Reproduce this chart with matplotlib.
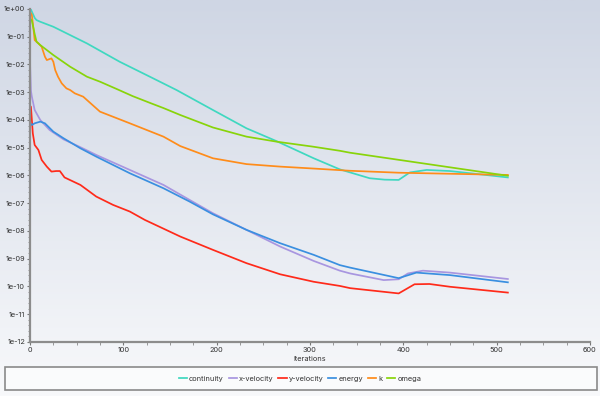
import numpy as np
import matplotlib
matplotlib.use('Agg')
import matplotlib.pyplot as plt
from matplotlib.colors import LinearSegmentedColormap
from matplotlib.patches import Rectangle
from matplotlib.ticker import LogLocator, MultipleLocator, FuncFormatter

plt.rcParams['font.family'] = ['Inter', 'DejaVu Sans']

# residuals (iteration, log10 of residual)
cont_it = [0, 1, 5, 7, 11, 25, 43, 61, 96, 129, 157, 196, 232, 264, 304, 332, 343, 364, 380, 395, 407, 425, 450, 480, 512]
cont_lg = [0.0, -0.02, -0.32, -0.40, -0.46, -0.64, -0.94, -1.24, -1.90, -2.45, -2.92, -3.64, -4.30, -4.76, -5.38, -5.78,
           -5.89, -6.10, -6.15, -6.16, -5.89, -5.80, -5.84, -5.95, -6.07]

xvel_it = [0, 1, 2, 5, 11, 21, 36, 54, 71, 107, 143, 171, 196, 232, 268, 304, 332, 343, 379, 395, 405, 421, 450, 512]
xvel_lg = [-1.9, -2.95, -3.16, -3.64, -4.0, -4.36, -4.70, -4.98, -5.26, -5.80, -6.34, -6.88, -7.36, -7.96, -8.56, -9.08,
           -9.43, -9.53, -9.77, -9.74, -9.53, -9.43, -9.50, -9.73]

yvel_it = [0, 1, 3, 5, 9, 12.5, 18, 23, 28, 32, 37, 54, 71, 89, 107, 123, 161, 196, 232, 268, 304, 332, 343, 395, 412,
           428, 450, 512]
yvel_lg = [-3.5, -3.52, -4.48, -4.90, -5.08, -5.44, -5.68, -5.86, -5.84, -5.84, -6.07, -6.34, -6.76, -7.06, -7.30, -7.60,
           -8.20, -8.68, -9.16, -9.56, -9.83, -9.98, -10.06, -10.25, -9.92, -9.91, -10.01, -10.22]

ener_it = [0, 2, 5, 11, 16, 25, 36, 54, 71, 107, 143, 171, 196, 232, 268, 304, 332, 343, 395, 414, 450, 512]
ener_lg = [-4.1, -4.18, -4.12, -4.06, -4.12, -4.42, -4.66, -5.02, -5.32, -5.92, -6.46, -6.94, -7.40, -7.96, -8.44, -8.86,
           -9.23, -9.32, -9.70, -9.50, -9.59, -9.85]

k_it = [0, 2, 4, 5, 9, 12.5, 16, 18, 23, 25, 27, 30, 34, 39, 43, 48, 57, 75, 107, 143, 161, 196, 232, 268, 304, 343, 395, 512]
k_lg = [-0.1, -0.22, -0.8, -1.12, -1.24, -1.36, -1.72, -1.84, -1.78, -1.90, -2.20, -2.44, -2.68, -2.86, -2.92, -3.04,
        -3.16, -3.70, -4.12, -4.60, -4.94, -5.38, -5.59, -5.68, -5.75, -5.83, -5.90, -5.98]

omega_it = [0, 2, 5, 7, 11, 25, 43, 61, 75, 94, 110, 129, 143, 161, 182, 196, 232, 264, 303, 332, 343, 512]
omega_lg = [-0.33, -0.42, -0.9, -1.18, -1.30, -1.66, -2.08, -2.44, -2.62, -2.90, -3.14, -3.39, -3.57, -3.82, -4.09, -4.27,
            -4.60, -4.78, -4.96, -5.11, -5.18, -6.01]

names = ['continuity', 'x-velocity', 'y-velocity', 'energy', 'k', 'omega']
colors = ['#3fd8c0', '#a896e0', '#ff2a1a', '#3a8fe0', '#ff8c1a', '#88d40a']
series = [(cont_it, cont_lg), (xvel_it, xvel_lg), (yvel_it, yvel_lg),
          (ener_it, ener_lg), (k_it, k_lg), (omega_it, omega_lg)]

fig = plt.figure(figsize=(6, 3.96), dpi=100)

# gradient background
bg = fig.add_axes([0, 0, 1, 1], zorder=-2)
cmap = LinearSegmentedColormap.from_list('bg', ['#f8f9fb', '#cfd6e4'])
bg.imshow(np.linspace(0, 1, 256).reshape(-1, 1)[::-1], aspect='auto', cmap=cmap, extent=[0, 1, 0, 1])
bg.axis('off')

ax = fig.add_axes([0.05, 0.1364, 0.9333, 0.8409])
ax.set_facecolor('none')

handles = []
for (it, lg), name, c in zip(series, names, colors):
    h, = ax.plot(it, 10.0 ** np.array(lg), color=c, lw=1.25, label=name)
    handles.append(h)

ax.set_yscale('log')
ax.set_ylim(1e-12, 1)
ax.set_xlim(0, 600)
ax.xaxis.set_major_locator(MultipleLocator(100))
ax.xaxis.set_minor_locator(MultipleLocator(25))
ax.yaxis.set_major_locator(LogLocator(base=10, numticks=20))
ax.yaxis.set_minor_locator(LogLocator(base=10, subs=(10 ** 0.2, 10 ** 0.4, 10 ** 0.6, 10 ** 0.8), numticks=100))
ax.yaxis.set_major_formatter(FuncFormatter(lambda v, p: '%.0e' % v))

for s in ['top', 'right']:
    ax.spines[s].set_visible(False)
for s in ['left', 'bottom']:
    ax.spines[s].set_color('#8c8c8c')
    ax.spines[s].set_linewidth(1.6)

ax.tick_params(which='major', length=2.5, width=0.8, color='#777777', labelsize=5.3, labelcolor='#333333', pad=1)
ax.tick_params(which='minor', length=1.8, width=0.6, color='#888888')
ax.set_xlabel('Iterations', fontsize=5.3, color='#333333', labelpad=2)

# legend box along the bottom
fig.patches.append(Rectangle((5 / 600, 6 / 396), 592 / 600, 23 / 396, transform=fig.transFigure,
                             facecolor='#fafbfc', edgecolor='#8a8a8a', linewidth=1.2, zorder=-1))
fig.legend(handles=handles, loc='center', bbox_to_anchor=(0.5, 1 - 378.5 / 396), ncol=6, frameon=False,
           fontsize=5.3, handlelength=1.1, handletextpad=0.25, columnspacing=0.7, labelcolor='#333333')

fig.savefig('out.png', dpi=100)
